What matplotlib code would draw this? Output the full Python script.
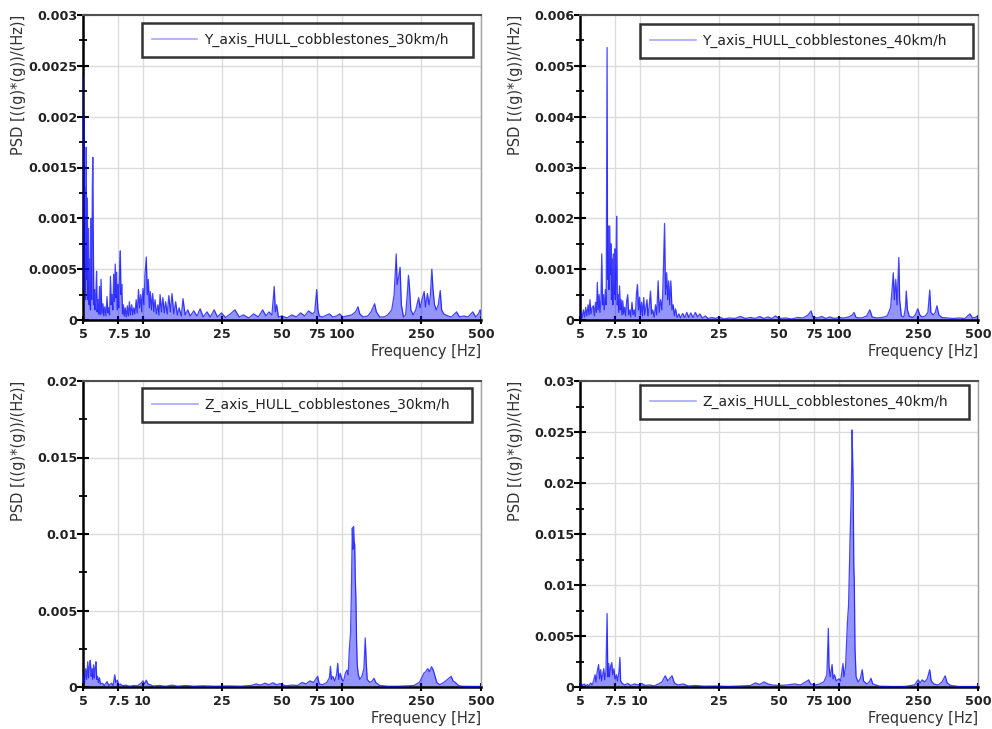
import numpy as np
import matplotlib
matplotlib.use("Agg")
import matplotlib.pyplot as plt
from matplotlib.ticker import FixedLocator, NullLocator

# ---------------- data ----------------
# Y axis, 30 km/h  (PSD values in 1e-4 g^2/Hz)
y30_f = [5.00, 5.03, 5.06, 5.09, 5.12, 5.15, 5.19, 5.22, 5.26, 5.29, 5.33, 5.37, 5.41, 5.45, 5.49,
         5.53, 5.57, 5.60, 5.63, 5.67, 5.71, 5.75, 5.80, 5.85, 5.89, 5.94, 5.99, 6.05, 6.10, 6.16,
         6.22, 6.30, 6.36, 6.44, 6.52, 6.60, 6.67, 6.74, 6.80, 6.87, 6.93, 7.00, 7.06, 7.13, 7.19,
         7.26, 7.31, 7.37, 7.43, 7.50, 7.56, 7.63, 7.70, 7.76, 7.83, 7.90, 7.98, 8.06, 8.15, 8.25,
         8.35, 8.45, 8.55, 8.66, 8.78, 8.90, 9.00, 9.12, 9.25, 9.37, 9.50, 9.62, 9.75, 9.87, 10.00,
         10.12, 10.25, 10.40, 10.52, 10.65, 10.78, 10.90, 11.05, 11.20, 11.35, 11.50, 11.70, 11.90,
         12.05, 12.20, 12.40, 12.60, 12.80, 13.00, 13.25, 13.50, 13.75, 14.00, 14.30, 14.60, 14.90,
         15.20, 15.60, 15.90, 16.30, 16.80, 17.30, 18.00, 18.70, 19.40, 20.10, 21.00, 21.80, 22.80,
         23.70, 24.80, 26.00, 27.50, 29.00, 30.50, 32.00, 34.00, 36.00, 38.00, 40.00, 41.50, 43.00,
         44.50, 45.70, 46.30, 47.00, 48.00, 50.00, 53.00, 56.00, 59.00, 62.00, 65.00, 68.00, 71.00,
         73.00, 74.70, 75.80, 77.00, 80.00, 84.00, 86.70, 90.00, 94.00, 97.40, 101.0, 106.0, 112.0,
         117.0, 120.4, 123.0, 128.0, 135.0, 140.0, 146.0, 149.0, 155.0, 163.0, 170.0, 178.0, 183.0,
         187.5, 189.5, 192.0, 196.0, 199.0, 204.0, 209.0, 213.0, 216.0, 219.0, 222.0, 228.0, 235.0,
         243.0, 247.0, 251.0, 259.0, 263.0, 269.0, 274.0, 278.0, 283.0, 287.0, 292.0, 298.0, 305.0,
         312.0, 317.0, 325.0, 340.0, 355.0, 377.0, 390.0, 410.0, 430.0, 455.0, 470.0, 485.0, 495.0,
         500.0]
y30_v = [24, 3, 20, 5, 13, 2, 17, 4, 12, 2, 9, 1.5, 6, 1, 10,
         2, 13, 16, 8.5, 1.5, 3, 1, 2.5, 4.8, 0.8, 2, 0.6, 3.3, 0.5, 4,
         0.6, 1.6, 0.4, 1.3, 0.4, 2.3, 0.7, 1.2, 0.5, 4.3, 1.5, 2.5, 1, 4.5, 1.8,
         5.5, 2.2, 4.7, 1, 3.5, 1.2, 4.8, 6.8, 2.5, 3.5, 0.6, 1.5, 0.4, 1.2, 0.3,
         1.4, 0.4, 1.8, 0.5, 1.5, 0.5, 1.2, 0.6, 2, 0.7, 3, 1.2, 2.5, 0.8, 3.1,
         1.5, 4.6, 6.2, 2.5, 4, 1.2, 2.8, 1, 2.6, 0.8, 2, 0.6, 1.5,
         0.5, 2.5, 0.8, 2.2, 0.7, 1.8, 0.6, 2.4, 0.8, 2.6, 0.6, 1.8, 0.5,
         1.2, 0.4, 2.1, 0.5, 1.0, 0.4, 0.9, 0.4, 1.1, 0.3, 0.8, 0.3, 1.0,
         0.3, 0.7, 0.25, 0.6, 1.0, 0.3, 0.5, 0.2, 0.6, 0.3, 1.0, 0.4, 0.8,
         0.5, 3.3, 0.8, 1.5, 0.3, 0.4, 0.2, 0.5, 0.3, 0.7, 0.4, 0.9, 0.6,
         0.8, 3.0, 1.0, 0.4, 0.3, 0.5, 0.6, 0.3, 0.4, 0.6, 0.3, 0.4, 0.5,
         0.8, 1.3, 0.6, 0.3, 0.4, 0.8, 1.6, 0.8, 0.3, 0.3, 0.5, 1.0, 2.5,
         6.5, 3.5, 4.0, 5.2, 1.5, 0.3, 0.5, 2.5, 4.4, 3.0, 1.0, 0.5, 1.0,
         2.2, 1.2, 1.8, 2.8, 1.3, 2.6, 1.5, 2.3, 5.0, 3.0, 1.5, 1.0, 1.5,
         2.9, 1.0, 0.6, 0.4, 0.3, 0.8, 0.3, 0.4, 0.3, 0.8, 0.3, 0.6, 1.0,
         0.5]

# Y axis, 40 km/h  (1e-4 g^2/Hz)
y40_f = [5.00, 5.07, 5.12, 5.20, 5.27, 5.34, 5.41, 5.49, 5.55, 5.61, 5.68, 5.76, 5.84, 5.91, 5.98,
         6.05, 6.11, 6.17, 6.24, 6.30, 6.37, 6.43, 6.49, 6.55, 6.62, 6.70, 6.77, 6.84, 6.88, 6.94,
         6.99, 7.04, 7.10, 7.15, 7.20, 7.26, 7.31, 7.36, 7.42, 7.48, 7.53, 7.58, 7.64, 7.70, 7.76,
         7.83, 7.90, 7.97, 8.05, 8.13, 8.20, 8.28, 8.38, 8.48, 8.58, 8.68, 8.78, 8.90, 9.00, 9.12,
         9.24, 9.36, 9.48, 9.60, 9.72, 9.84, 9.96, 10.08, 10.20, 10.32, 10.45, 10.58, 10.72, 10.85,
         10.98, 11.12, 11.30, 11.45, 11.60, 11.80, 11.98, 12.15, 12.35, 12.50, 12.70, 12.90, 13.05,
         13.30, 13.45, 13.62, 13.80, 13.95, 14.12, 14.30, 14.50, 14.70, 14.90, 15.10, 15.40, 15.70,
         16.00, 16.40, 16.80, 17.20, 17.60, 18.00, 18.50, 19.00, 19.50, 20.00, 20.60, 21.30, 22.00,
         23.00, 24.00, 25.00, 26.50, 28.00, 30.00, 32.00, 34.00, 36.00, 38.00, 40.00, 42.00, 44.00,
         46.00, 48.00, 50.00, 54.00, 58.00, 62.00, 66.00, 70.00, 72.50, 74.00, 78.00, 82.00, 86.00,
         90.00, 95.00, 100.0, 106.0, 112.0, 117.0, 119.0, 122.0, 130.0, 138.0, 143.0, 147.0, 155.0,
         165.0, 175.0, 182.0, 185.0, 187.6, 190.0, 193.0, 196.0, 200.0, 202.0, 206.0, 212.0, 216.0,
         218.0, 221.0, 226.0, 235.0, 242.0, 249.0, 255.0, 262.0, 272.0, 280.0, 286.0, 290.0, 298.0,
         305.0, 311.0, 318.0, 330.0, 350.0, 375.0, 400.0, 430.0, 455.0, 470.0, 490.0, 500.0]
y40_v = [0.3, 1.5, 0.4, 2, 0.6, 2.5, 0.8, 3, 1, 4, 1.2, 2.5, 2.8, 0.8, 3.5,
         1.5, 7.4, 2, 5, 1.5, 4, 13, 3, 5, 2, 6, 3, 53.6, 8, 18.5,
         6, 18.5, 9, 15, 4, 12, 3, 13, 5, 14, 4, 9, 20.4, 3, 5,
         1.5, 6.7, 2, 4, 1, 3.8, 1.2, 2.5, 0.8, 3.8, 5, 1, 2, 0.6, 3.5,
         1, 2, 0.7, 5, 7, 2, 4.5, 1, 3.5, 0.8, 4.4, 1, 2.5, 4,
         0.8, 2.5, 5.7, 1.2, 2, 0.6, 3, 1, 7.7, 1.5, 4, 2, 6.4,
         19, 5, 9.3, 4, 7.7, 3, 7.7, 2, 3, 0.8, 2.2, 0.5, 1.2,
         0.4, 1.3, 0.5, 1.5, 0.5, 1.4, 0.5, 1.5, 0.6, 1.2, 0.4, 0.8, 0.3,
         0.5, 0.3, 0.6, 0.2, 0.4, 0.3, 0.7, 0.3, 0.5, 0.3, 0.7, 0.3, 0.6,
         0.3, 0.8, 0.3, 0.4, 0.2, 0.5, 0.4, 1.0, 1.8, 0.6, 0.4, 0.7, 0.3,
         0.6, 0.3, 0.5, 0.4, 0.6, 1.0, 1.5, 0.5, 0.4, 0.8, 2.0, 0.6, 0.4,
         0.5, 0.8, 2.5, 6.0, 9.3, 4.0, 8.0, 3.0, 12.3, 4.0, 0.8, 0.6, 2.5,
         5.7, 2.0, 0.7, 0.5, 1.0, 2.2, 1.0, 0.6, 0.8, 1.5, 5.9, 1.5, 1.0,
         1.5, 2.8, 1.0, 0.5, 0.4, 0.3, 0.4, 0.3, 1.2, 0.4, 0.6, 0.9]

# Z axis, 30 km/h  (1e-3 g^2/Hz)
z30_f = [5.00, 5.05, 5.10, 5.16, 5.22, 5.28, 5.33, 5.39, 5.44, 5.50, 5.55, 5.60, 5.65, 5.70, 5.76,
         5.81, 5.86, 5.92, 5.98, 6.05, 6.12, 6.25, 6.40, 6.60, 6.75, 6.95, 7.08, 7.22, 7.30, 7.45,
         7.55, 7.70, 7.90, 8.20, 8.60, 9.00, 9.40, 9.80, 10.00, 10.20, 10.40, 10.60, 10.90, 11.30,
         12.00, 13.00, 14.00, 15.00, 16.50, 18.00, 20.00, 23.00, 27.00, 31.00, 35.00, 37.00, 39.00,
         41.00, 43.00, 45.00, 47.00, 49.00, 52.00, 56.00, 60.00, 63.00, 66.00, 69.00, 72.00, 75.50,
         77.00, 80.00, 84.00, 86.50, 87.60, 88.50, 90.00, 92.00, 94.00, 95.30, 96.50, 98.00, 100.0,
         102.0, 104.0, 106.0, 107.5, 109.0, 110.5, 111.5, 112.8, 113.6, 114.4, 115.2, 116.0, 116.8,
         117.6, 118.5, 119.5, 121.0, 123.0, 126.0, 129.0, 131.0, 132.5, 134.0, 138.0, 142.0, 145.0,
         148.0, 155.0, 170.0, 190.0, 210.0, 230.0, 245.0, 252.0, 258.0, 264.0, 270.0, 276.0, 282.0,
         288.0, 294.0, 300.0, 310.0, 325.0, 340.0, 354.0, 362.0, 375.0, 385.0, 400.0, 450.0, 500.0]
z30_v = [0.3, 0.8, 0.3, 1.2, 0.5, 1.65, 0.6, 1.4, 1.75, 0.7, 1.2, 0.5, 1.45, 0.6, 1.3,
         1.65, 0.5, 0.7, 0.3, 0.6, 0.2, 0.25, 0.1, 0.35, 0.1, 0.25, 0.1, 0.8, 0.3, 0.45,
         0.1, 0.2, 0.08, 0.12, 0.05, 0.1, 0.08, 0.25, 0.4, 0.2, 0.45, 0.2, 0.15, 0.06,
         0.1, 0.05, 0.12, 0.05, 0.1, 0.05, 0.08, 0.05, 0.07, 0.05, 0.1, 0.2, 0.12,
         0.25, 0.15, 0.28, 0.15, 0.22, 0.08, 0.12, 0.1, 0.3, 0.2, 0.4, 0.3, 0.7,
         0.2, 0.15, 0.3, 0.6, 1.35, 0.5, 0.7, 0.4, 0.8, 1.55, 0.5, 0.9, 0.5,
         0.4, 0.9, 1.1, 0.8, 2.5, 3.5, 6.0, 10.4, 9.0, 10.5, 9.5, 9.3, 7.0,
         5.8, 3.0, 1.4, 0.8, 0.5, 0.7, 1.2, 3.2, 1.65, 0.5, 0.3, 0.4, 0.57,
         0.3, 0.1, 0.05, 0.05, 0.07, 0.1, 0.3, 0.6, 0.9, 1.0, 1.2, 1.0, 1.33,
         1.1, 0.7, 0.3, 0.15, 0.3, 0.5, 0.7, 0.4, 0.25, 0.1, 0.05, 0.04, 0.04]

# Z axis, 40 km/h  (1e-3 g^2/Hz)
z40_f = [5.00, 5.08, 5.15, 5.25, 5.35, 5.45, 5.55, 5.65, 5.75, 5.85, 5.95, 6.02, 6.10, 6.20, 6.27,
         6.35, 6.42, 6.50, 6.58, 6.66, 6.75, 6.84, 6.90, 6.97, 7.04, 7.12, 7.22, 7.30, 7.40, 7.50,
         7.62, 7.72, 7.85, 7.93, 8.00, 8.15, 8.40, 8.70, 9.00, 9.40, 9.80, 10.20, 10.60, 11.20,
         11.80, 12.40, 12.90, 13.40, 13.80, 14.20, 14.50, 14.90, 15.50, 16.50, 17.50, 19.00, 21.00,
         24.00, 28.00, 32.00, 36.00, 38.00, 40.00, 42.00, 44.00, 46.00, 50.00, 55.00, 60.00, 64.00,
         68.00, 70.60, 72.00, 76.00, 80.00, 84.00, 87.00, 88.50, 89.20, 90.50, 92.40, 93.50, 95.00,
         97.00, 100.0, 102.0, 104.8, 106.0, 108.0, 110.4, 111.8, 113.0, 114.0, 115.0, 116.0, 116.5,
         117.2, 118.0, 118.8, 119.5, 120.5, 122.0, 125.0, 128.0, 131.0, 133.0, 138.0, 142.0, 145.0,
         148.0, 160.0, 185.0, 215.0, 240.0, 250.0, 256.0, 262.0, 270.0, 278.0, 286.0, 291.0, 300.0,
         315.0, 330.0, 342.0, 350.0, 365.0, 400.0, 450.0, 500.0]
z40_v = [0.2, 0.35, 0.15, 0.3, 0.1, 0.25, 0.1, 0.4, 0.2, 0.6, 1.2, 0.5, 1.5, 2.2, 0.8,
         1.7, 0.6, 1.2, 1.8, 0.7, 1.5, 7.2, 1.0, 2.3, 1.0, 2.0, 2.4, 1.2, 1.8, 0.8,
         1.2, 0.6, 1.5, 2.9, 0.6, 0.35, 0.2, 0.35, 0.15, 0.3, 0.2, 0.35, 0.15, 0.2,
         0.1, 0.3, 0.5, 1.1, 0.6, 0.9, 1.1, 0.4, 0.2, 0.3, 0.1, 0.15, 0.08,
         0.1, 0.06, 0.1, 0.15, 0.4, 0.25, 0.5, 0.3, 0.2, 0.15, 0.2, 0.3, 0.2,
         0.5, 0.7, 0.3, 0.2, 0.3, 0.5, 1.2, 5.75, 2.0, 1.0, 2.2, 0.8, 1.2,
         0.6, 0.8, 0.6, 2.3, 1.0, 2.0, 6.4, 8.0, 12.0, 15.2, 18.0, 22.0, 25.2,
         22.4, 19.5, 12.0, 10.3, 3.8, 1.0, 0.5, 0.8, 1.7, 0.6, 0.3, 0.5, 0.85,
         0.3, 0.08, 0.05, 0.06, 0.2, 0.7, 0.4, 0.7, 0.5, 0.8, 1.7, 0.6, 0.3,
         0.2, 0.5, 1.1, 0.4, 0.15, 0.05, 0.05, 0.05]

legend_labels = ["Y_axis_HULL_cobblestones_30km/h", "Y_axis_HULL_cobblestones_40km/h",
                 "Z_axis_HULL_cobblestones_30km/h", "Z_axis_HULL_cobblestones_40km/h"]
x_ticks = [5, 7.5, 10, 25, 50, 75, 100, 250, 500]
x_tick_labels = ["5", "7.5", "10", "25", "50", "75", "100", "250", "500"]
y_ticks = [[0, 0.0005, 0.001, 0.0015, 0.002, 0.0025, 0.003],
           [0, 0.001, 0.002, 0.003, 0.004, 0.005, 0.006],
           [0, 0.005, 0.01, 0.015, 0.02],
           [0, 0.005, 0.01, 0.015, 0.02, 0.025, 0.03]]
y_tick_labels = [["0", "0.0005", "0.001", "0.0015", "0.002", "0.0025", "0.003"],
                 ["0", "0.001", "0.002", "0.003", "0.004", "0.005", "0.006"],
                 ["0", "0.005", "0.01", "0.015", "0.02"],
                 ["0", "0.005", "0.01", "0.015", "0.02", "0.025", "0.03"]]
unit_scale = [1e-4, 1e-4, 1e-3, 1e-3]

series = [(y30_f, y30_v), (y40_f, y40_v), (z30_f, z30_v), (z40_f, z40_v)]

# ---------------- layout ----------------
W, H = 992, 729
fig = plt.figure(figsize=(W / 100, H / 100), dpi=100)
plt.rcParams['font.family'] = ['DejaVu Sans']

# axes boxes in pixels: left, top, right, bottom
boxes = [(83, 15, 481, 320), (580, 15, 978, 320), (83, 381, 481, 687), (580, 381, 978, 687)]
legend_boxes = [(0.148, 0.856, 0.832, 0.118), (0.151, 0.846, 0.836, 0.124),
                (0.149, 0.837, 0.829, 0.139), (0.151, 0.860, 0.826, 0.127)]

for i, (l, t, r, b) in enumerate(boxes):
    ax = fig.add_axes([l / W, (H - b) / H, (r - l) / W, (b - t) / H])
    f = np.array(series[i][0])
    v = np.array(series[i][1]) * unit_scale[i]
    ax.fill_between(f, 0, v, color=(0, 0, 1), alpha=0.42, lw=0, zorder=2)
    ax.plot(f, v, color=(0, 0, 1), lw=0.9, alpha=0.72, zorder=3, label=legend_labels[i])

    ax.set_xscale('log')
    ax.set_xlim(5, 500)
    ax.set_ylim(y_ticks[i][0], y_ticks[i][-1])
    ax.xaxis.set_major_locator(FixedLocator(x_ticks))
    ax.xaxis.set_minor_locator(NullLocator())
    ax.set_xticklabels(x_tick_labels)
    ax.set_yticks(y_ticks[i])
    ax.set_yticklabels(y_tick_labels[i])
    yt = y_ticks[i]
    ax.set_yticks([(yt[k] + yt[k + 1]) / 2 for k in range(len(yt) - 1)], minor=True)

    ax.grid(True, which='major', color='#dcdcdc', lw=1.0, zorder=0)
    ax.set_axisbelow(True)

    for sp in ['left', 'bottom']:
        ax.spines[sp].set_color('black')
        ax.spines[sp].set_linewidth(1.8)
    ax.spines['top'].set_color('#505050')
    ax.spines['top'].set_linewidth(1.5)
    ax.spines['right'].set_color('#a0a0a0')
    ax.spines['right'].set_linewidth(1.0)

    ax.tick_params(axis='y', which='major', direction='inout', length=8, width=1.5,
                   pad=0, labelsize=9.2, right=False)
    ax.tick_params(axis='y', which='minor', direction='inout', length=6, width=1.3)
    ax.tick_params(axis='x', which='major', direction='inout', length=6, width=1.5,
                   pad=3, labelsize=9.2, top=False)
    for lab in ax.get_xticklabels() + ax.get_yticklabels():
        lab.set_fontweight('bold')
        lab.set_color('#222222')

    ax.set_xlabel("Frequency [Hz]", fontsize=10.5, loc='right', color='#333333')
    ax.xaxis.set_label_coords(1.0, -0.078)
    ax.xaxis.label.set_va('top')
    ax.set_ylabel("PSD [((g)*(g))/(Hz)]", fontsize=10.5, loc='top', color='#333333')
    ax.yaxis.set_label_coords(-0.142, 1.0)

    lb = legend_boxes[i]
    leg = ax.legend(loc='upper left', bbox_to_anchor=lb, mode='expand', fontsize=10,
                    frameon=True, fancybox=False, borderpad=0.7, handlelength=3.3,
                    handletextpad=0.45, borderaxespad=0)
    leg.get_frame().set_edgecolor('black')
    leg.get_frame().set_linewidth(1.8)
    for line in leg.get_lines():
        line.set_alpha(0.35)
        line.set_linewidth(1.2)
    for txt in leg.get_texts():
        txt.set_color('#222222')

fig.savefig("out.png", dpi=100)
